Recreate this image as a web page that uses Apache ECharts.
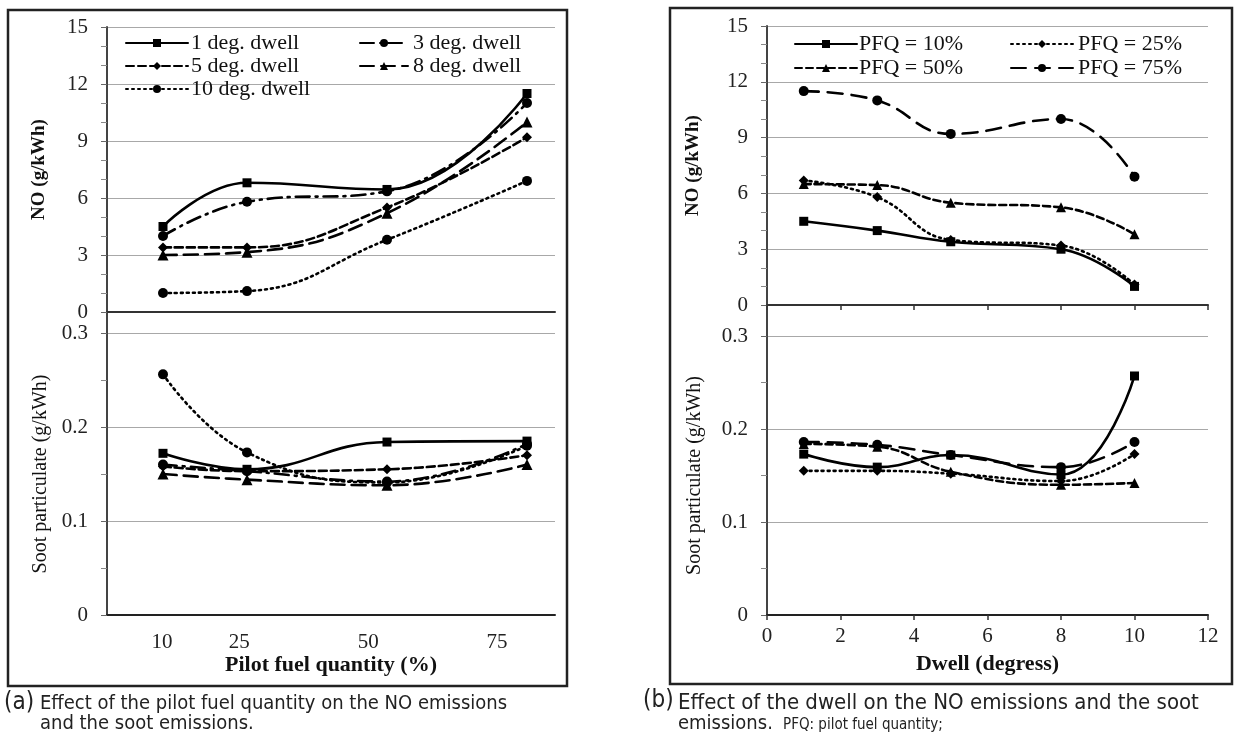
<!DOCTYPE html>
<html>
<head>
<meta charset="utf-8">
<script src="https://cdn.jsdelivr.net/npm/echarts@6/dist/echarts.min.js"></script>
<style>
html,body{margin:0;padding:0;background:#fff;}
#chart{width:1257px;height:747px;}
</style>
</head>
<body>
<div id="chart"></div>
<script>
// ---------- data ----------
const pfqValues = [10, 25, 50, 75];
const pfqTickLabels = [10, 25, 50, 75];
const dwellValues = [1, 3, 5, 8, 10];
const dwellNames = ['1 deg. dwell', '3 deg. dwell', '5 deg. dwell', '8 deg. dwell', '10 deg. dwell'];
const pfqNames = ['PFQ = 10%', 'PFQ = 25%', 'PFQ = 50%', 'PFQ = 75%'];

// (a) NO vs pilot fuel quantity
const noDwell1  = [4.5, 6.8, 6.45, 11.5];
const noDwell3  = [4.0, 5.8, 6.35, 11.0];
const noDwell5  = [3.4, 3.4, 5.5, 9.2];
const noDwell8  = [3.0, 3.15, 5.2, 10.0];
const noDwell10 = [1.0, 1.1, 3.8, 6.9];
// (a) soot vs pilot fuel quantity
const sootDwell1  = [0.172, 0.155, 0.184, 0.185];
const sootDwell3  = [0.160, 0.153, 0.142, 0.182];
const sootDwell5  = [0.158, 0.153, 0.155, 0.170];
const sootDwell8  = [0.150, 0.144, 0.138, 0.160];
const sootDwell10 = [0.256, 0.173, 0.141, 0.180];

// (b) NO vs dwell
const noPfq10 = [4.5, 4.0, 3.4, 3.0, 1.0];
const noPfq25 = [6.7, 5.8, 3.5, 3.2, 1.1];
const noPfq50 = [6.5, 6.45, 5.5, 5.25, 3.8];
const noPfq75 = [11.5, 11.0, 9.2, 10.0, 6.9];
// (b) soot vs dwell
const sootPfq10 = [0.173, 0.159, 0.172, 0.151, 0.257];
const sootPfq25 = [0.155, 0.155, 0.152, 0.144, 0.173];
const sootPfq50 = [0.184, 0.181, 0.154, 0.140, 0.142];
const sootPfq75 = [0.186, 0.183, 0.172, 0.159, 0.186];

// ---------- styles ----------
const SERIF = '"Liberation Serif","Times New Roman",serif';
const SANS = '"Liberation Sans Narrow","DejaVu Sans Condensed","Open Sans",sans-serif';
const GRID_COLOR = '#a8a8a8';

const dwellStyles = [
  {symbol: 'rect', size: 9, type: 'solid'},
  {symbol: 'circle', size: 10, type: [14, 6, 2, 6]},
  {symbol: 'diamond', size: 10, type: [8, 4]},
  {symbol: 'triangle', size: 11, type: [14, 7]},
  {symbol: 'circle', size: 10, type: [2, 4]}
];
const pfqStyles = [
  {symbol: 'rect', size: 9, type: 'solid'},
  {symbol: 'diamond', size: 10, type: [2, 4]},
  {symbol: 'triangle', size: 10, type: [7, 4]},
  {symbol: 'circle', size: 10, type: [15, 9]}
];

function pairs(xs, ys) { return xs.map((x, i) => [x, ys[i]]); }

function mkSeries(name, st, xi, yi, xs, ys) {
  return {
    name: name, type: 'line', xAxisIndex: xi, yAxisIndex: yi,
    data: pairs(xs, ys), smooth: 0.45,
    symbol: st.symbol, symbolSize: st.size,
    itemStyle: {color: '#000'},
    lineStyle: {color: '#000', width: 2.6, type: st.type, cap: 'round'},
    emphasis: {disabled: true}, animation: false, z: 3
  };
}

const noDwell = [noDwell1, noDwell3, noDwell5, noDwell8, noDwell10];
const sootDwell = [sootDwell1, sootDwell3, sootDwell5, sootDwell8, sootDwell10];
const noPfq = [noPfq10, noPfq25, noPfq50, noPfq75];
const sootPfq = [sootPfq10, sootPfq25, sootPfq50, sootPfq75];

const series = [];
dwellNames.forEach((n, i) => series.push(mkSeries(n, dwellStyles[i], 0, 0, pfqValues, noDwell[i])));
dwellNames.forEach((n, i) => series.push(mkSeries(n, dwellStyles[i], 1, 1, pfqValues, sootDwell[i])));
pfqNames.forEach((n, i) => series.push(mkSeries(n, pfqStyles[i], 3, 2, dwellValues, noPfq[i])));
pfqNames.forEach((n, i) => series.push(mkSeries(n, pfqStyles[i], 4, 3, dwellValues, sootPfq[i])));

const tickLabelStyle = {color: '#222', fontFamily: SERIF, fontSize: 21};

function yAxisDef(grid, max, interval, minorSplit, name, bold, gap) {
  return {
    type: 'value', gridIndex: grid, min: 0, max: max, interval: interval,
    name: name, nameLocation: 'middle', nameGap: gap, nameRotate: 90,
    nameTextStyle: {fontFamily: SERIF, fontSize: bold ? 19 : 20, fontWeight: bold ? 'bold' : 'normal', color: '#111'},
    axisLine: {show: true, lineStyle: {color: '#444', width: 2}},
    axisTick: {show: true, inside: false, length: 6, lineStyle: {color: '#666'}},
    minorTick: {show: true, splitNumber: minorSplit, length: 6, lineStyle: {color: '#888'}},
    axisLabel: Object.assign({margin: 19}, tickLabelStyle),
    splitLine: {show: true, lineStyle: {color: GRID_COLOR, width: 1.2}}
  };
}

const legendText = {fontFamily: SERIF, fontSize: 22, color: '#111'};

const option = {
  backgroundColor: '#fff',
  animation: false,
  grid: [
    {left: 107, top: 27, width: 448, height: 285},
    {left: 107, top: 333, width: 448, height: 282},
    {left: 767, top: 26, width: 441, height: 279},
    {left: 767, top: 336, width: 441, height: 279}
  ],
  xAxis: [
    {type: 'value', gridIndex: 0, min: 0, max: 80,
     axisLine: {lineStyle: {color: '#333', width: 2}}, axisTick: {show: false},
     axisLabel: {show: false}, splitLine: {show: false}},
    {type: 'value', gridIndex: 1, min: 0, max: 80, position: 'bottom',
     axisLine: {lineStyle: {color: '#222', width: 2}}, axisTick: {show: false},
     axisLabel: {show: false}, splitLine: {show: false}},
    {type: 'value', gridIndex: 1, min: -0.68, max: 86.25, position: 'bottom',
     axisLine: {show: false}, axisTick: {show: false}, splitLine: {show: false},
     axisLabel: Object.assign({customValues: pfqTickLabels, margin: 17}, tickLabelStyle),
     name: 'Pilot fuel quantity (%)', nameLocation: 'middle', nameGap: 37,
     nameTextStyle: {fontFamily: SERIF, fontSize: 22, fontWeight: 'bold', color: '#111'}},
    {type: 'value', gridIndex: 2, min: 0, max: 12, interval: 2,
     axisLine: {lineStyle: {color: '#333', width: 2}},
     axisTick: {show: true, length: 5, lineStyle: {color: '#333', width: 1.5}},
     axisLabel: {show: false}, splitLine: {show: false}},
    {type: 'value', gridIndex: 3, min: 0, max: 12, interval: 2,
     axisLine: {lineStyle: {color: '#222', width: 2}},
     axisTick: {show: true, length: 5, lineStyle: {color: '#333', width: 1.5}},
     axisLabel: Object.assign({margin: 11}, tickLabelStyle), splitLine: {show: false},
     name: 'Dwell (degress)', nameLocation: 'middle', nameGap: 38,
     nameTextStyle: {fontFamily: SERIF, fontSize: 22, fontWeight: 'bold', color: '#111'}}
  ],
  yAxis: [
    yAxisDef(0, 15, 3, 3, 'NO (g/kWh)', true, 58),
    yAxisDef(1, 0.3, 0.1, 2, 'Soot particulate (g/kWh)', false, 56),
    yAxisDef(2, 15, 3, 3, 'NO (g/kWh)', true, 64),
    yAxisDef(3, 0.3, 0.1, 2, 'Soot particulate (g/kWh)', false, 62)
  ],
  legend: [
    {data: [dwellNames[0], dwellNames[2], dwellNames[4]], orient: 'vertical', left: 120, top: 27,
     itemWidth: 62, itemHeight: 10, itemGap: 1, selectedMode: false,
     textStyle: Object.assign({padding: [0, 0, 0, -2]}, legendText)},
    {data: [dwellNames[1], dwellNames[3]], orient: 'vertical', left: 354, top: 27,
     itemWidth: 48, itemHeight: 10, itemGap: 1, selectedMode: false,
     textStyle: legendText},
    {data: [pfqNames[0], pfqNames[2]], orient: 'vertical', left: 789, top: 28,
     itemWidth: 62, itemHeight: 10, itemGap: 2, selectedMode: false,
     textStyle: Object.assign({padding: [0, 0, 0, -3]}, legendText)},
    {data: [pfqNames[1], pfqNames[3]], orient: 'vertical', left: 1005, top: 28,
     itemWidth: 62, itemHeight: 10, itemGap: 2, selectedMode: false,
     textStyle: legendText}
  ],
  series: series,
  graphic: [
    {type: 'rect', shape: {x: 8, y: 10, width: 559, height: 676}, style: {fill: 'none', stroke: '#222', lineWidth: 2.5}, silent: true},
    {type: 'rect', shape: {x: 670, y: 8, width: 562, height: 676}, style: {fill: 'none', stroke: '#222', lineWidth: 2.5}, silent: true},
    {type: 'line', shape: {x1: 107, y1: 312, x2: 107, y2: 333}, style: {stroke: '#444', lineWidth: 2}, silent: true},
    {type: 'line', shape: {x1: 767, y1: 305, x2: 767, y2: 336}, style: {stroke: '#444', lineWidth: 2}, silent: true},
    {type: 'text', left: 4, top: 691, style: {text: '(a)', font: '24px ' + SANS, fill: '#222'}},
    {type: 'text', left: 40, top: 694, style: {text: 'Effect of the pilot fuel quantity on the NO emissions', font: '20px ' + SANS, fill: '#222'}},
    {type: 'text', left: 40, top: 714, style: {text: 'and the soot emissions.', font: '20px ' + SANS, fill: '#222'}},
    {type: 'text', left: 643, top: 689, style: {text: '(b)', font: '24px ' + SANS, fill: '#222'}},
    {type: 'text', left: 678, top: 692, style: {text: 'Effect of the dwell on the NO emissions and the soot', font: '22px ' + SANS, fill: '#222'}},
    {type: 'text', left: 678, top: 714, style: {text: 'emissions.', font: '20px ' + SANS, fill: '#222'}},
    {type: 'text', left: 783, top: 718, style: {text: 'PFQ: pilot fuel quantity;', font: '15px ' + SANS, fill: '#222'}}
  ]
};

const chart = echarts.init(document.getElementById('chart'), null, {renderer: 'canvas'});
chart.setOption(option);
</script>
</body>
</html>
